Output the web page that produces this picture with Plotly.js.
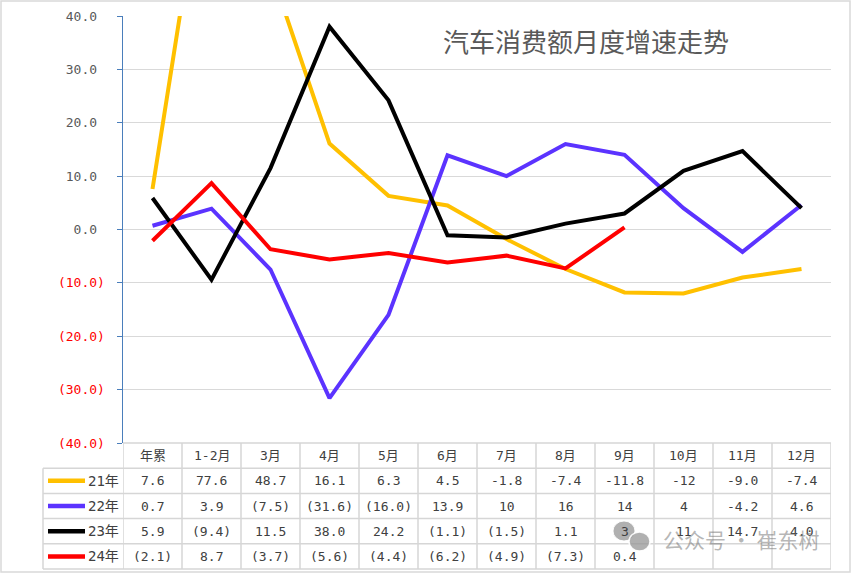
<!DOCTYPE html>
<html>
<head>
<meta charset="utf-8">
<script src="https://cdn.plot.ly/plotly-3.0.1.min.js"></script>
<style>html,body{margin:0;padding:0;background:#fff;}#chart{width:852px;height:574px;}</style>
</head>
<body>
<div id="chart"></div>
<script>
// ---- data ----
const categories = ['年累','1-2月','3月','4月','5月','6月','7月','8月','9月','10月','11月','12月'];
const seriesNames = ['21年','22年','23年','24年'];
const y21 = [7.6, 77.6, 48.7, 16.1, 6.3, 4.5, -1.8, -7.4, -11.8, -12, -9.0, -7.4];
const y22 = [0.7, 3.9, -7.5, -31.6, -16.0, 13.9, 10, 16, 14, 4, -4.2, 4.6];
const y23 = [5.9, -9.4, 11.5, 38.0, 24.2, -1.1, -1.5, 1.1, 3, 11, 14.7, 4.0];
const y24 = [-2.1, 8.7, -3.7, -5.6, -4.4, -6.2, -4.9, -7.3, 0.4];
const t21 = ['7.6','77.6','48.7','16.1','6.3','4.5','-1.8','-7.4','-11.8','-12','-9.0','-7.4'];
const t22 = ['0.7','3.9','(7.5)','(31.6)','(16.0)','13.9','10','16','14','4','-4.2','4.6'];
const t23 = ['5.9','(9.4)','11.5','38.0','24.2','(1.1)','(1.5)','1.1','3','11','14.7','4.0'];
const t24 = ['(2.1)','8.7','(3.7)','(5.6)','(4.4)','(6.2)','(4.9)','(7.3)','0.4'];
const yTickVals = [-40,-30,-20,-10,0,10,20,30,40];
const titleText = '汽车消费额月度增速走势';
const watermark = '公众号 · 崔东树';

const colors = ['#FFC000','#5B33FF','#000000','#FF0000'];
const seriesY = [y21,y22,y23,y24];
const seriesT = [t21,t22,t23,t24];

// ---- geometry helpers (pixel -> paper) ----
const L = 123, R = 831, T = 16, B = 443;
const px = p => (p - L) / (R - L);
const py = p => (B - p) / (B - T);
const rowH = 25.2;
const legendLeft = 43;

const mono = 'DejaVu Sans Mono, Noto Sans CJK SC, sans-serif';
const txtColor = '#404040';
const gridC = '#d6d6d6';

const traces = seriesY.map((ys, k) => ({
  type: 'scatter', mode: 'lines',
  x: categories.slice(0, ys.length), y: ys,
  name: seriesNames[k],
  line: {color: colors[k], width: 4},
  hoverinfo: 'x+y+name'
}));

const shapes = [];
const annotations = [];

// outer frame
shapes.push({type:'rect', xref:'paper', yref:'paper', x0:px(1), x1:px(850), y0:py(1), y1:py(572),
  line:{color:'#d9d9d9', width:1.5}, fillcolor:'rgba(0,0,0,0)', layer:'below'});

// table horizontal lines
for (let r = 0; r <= 5; r++) {
  const yy = B + r * rowH;
  shapes.push({type:'line', xref:'paper', yref:'paper', x0: r === 0 ? 0 : px(legendLeft), x1: 1,
    y0: py(yy), y1: py(yy), line:{color:gridC, width:1.5}});
}
// table vertical lines (columns)
for (let i = 0; i <= categories.length; i++) {
  shapes.push({type:'line', xref:'x', yref:'paper', x0: i - 0.5, x1: i - 0.5,
    y0: py(B), y1: py(B + 5 * rowH), line:{color:gridC, width:1.5}});
}
// legend column left border
shapes.push({type:'line', xref:'paper', yref:'paper', x0: px(legendLeft), x1: px(legendLeft),
  y0: py(B + rowH), y1: py(B + 5 * rowH), line:{color:gridC, width:1.5}});

// header labels
categories.forEach((c, i) => {
  annotations.push({xref:'x', yref:'paper', x: c, y: py(B + rowH / 2), text: c, showarrow:false,
    xanchor:'center', yanchor:'middle', font:{family:mono, size:13, color:txtColor}});
});
// rows
seriesT.forEach((row, k) => {
  const cy = B + rowH * (k + 1) + rowH / 2;
  shapes.push({type:'line', xref:'paper', yref:'paper', x0: px(48), x1: px(85), y0: py(cy), y1: py(cy),
    line:{color:colors[k], width:4.5}});
  annotations.push({xref:'paper', yref:'paper', x: px(86), y: py(cy), text: seriesNames[k], showarrow:false,
    xanchor:'left', yanchor:'middle', font:{family:mono, size:14, color:txtColor}});
  row.forEach((t, i) => {
    annotations.push({xref:'x', yref:'paper', x: categories[i], y: py(cy), text: t, showarrow:false,
      xanchor:'center', yanchor:'middle', font:{family:mono, size:13, color:txtColor}});
  });
});

// watermark
shapes.push({type:'circle', xref:'paper', yref:'paper', x0:px(613), x1:px(635), y0:py(521), y1:py(541),
  fillcolor:'rgba(150,150,150,0.75)', line:{color:'rgba(255,255,255,0.9)', width:1}});
shapes.push({type:'circle', xref:'paper', yref:'paper', x0:px(629), x1:px(650), y0:py(532), y1:py(551),
  fillcolor:'rgba(150,150,150,0.75)', line:{color:'rgba(255,255,255,0.9)', width:1.5}});
annotations.push({xref:'paper', yref:'paper', x: px(661), y: py(539), text: watermark, showarrow:false,
  xanchor:'left', yanchor:'middle', font:{family:'Noto Sans CJK SC, sans-serif', size:21, color:'rgba(120,120,120,0.55)'}});

const tickText = yTickVals.map(v => v >= 0 ? v.toFixed(1) + '\u00a0'
  : '<span style="color:#ff0000">(' + (-v).toFixed(1) + ')</span>');

const layout = {
  width: 852, height: 574,
  margin: {l: L, r: 852 - R, t: T, b: 574 - B, pad: 0},
  paper_bgcolor: '#ffffff', plot_bgcolor: '#ffffff',
  showlegend: false,
  title: {text: titleText, xref:'paper', x: px(443), xanchor:'left', yref:'container', y: 1 - 43/574, yanchor:'middle',
    font:{family:'Noto Sans CJK SC, sans-serif', size:26, color:'#595959'}},
  xaxis: {type:'category', categoryorder:'array', categoryarray: categories, range:[-0.5, categories.length - 0.5],
    showticklabels:false, showgrid:false, zeroline:false, showline:false, ticks:'', fixedrange:true},
  yaxis: {range:[-40, 40], tickvals: yTickVals, ticktext: tickText, showgrid:true, gridcolor:'#d9d9d9', gridwidth:1,
    zeroline:false, showline:true, linecolor:'#4a7ebb', linewidth:1.5, ticks:'outside', ticklen:5, tickcolor:'#4a7ebb',
    tickwidth:1, ticklabelstandoff: 9, tickfont:{family:mono, size:13, color:'#595959'}, fixedrange:true},
  shapes: shapes,
  annotations: annotations
};

Plotly.newPlot('chart', traces, layout, {displayModeBar:false, staticPlot:true});
</script>
</body>
</html>
